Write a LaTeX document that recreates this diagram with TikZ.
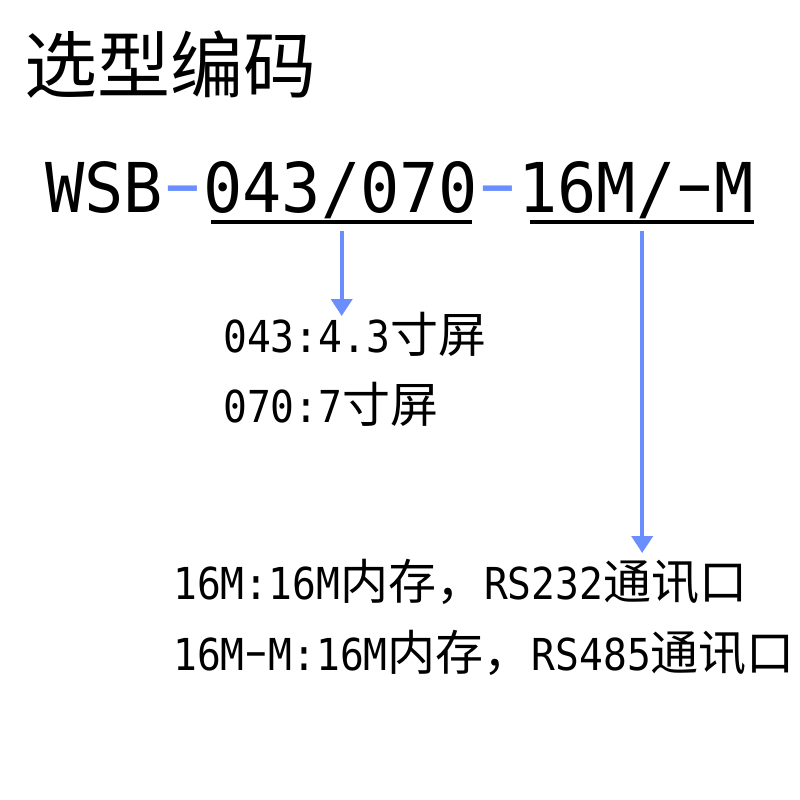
\documentclass[tikz,border=0pt]{standalone}
\usepackage{fontspec}
\usepackage{graphicx}
\usetikzlibrary{positioning,arrows.meta,calc}
\setmainfont{DejaVu Sans}
\newfontfamily\cjk{Noto Sans CJK SC}
\newfontfamily\mono[FakeStretch=0.9]{DejaVu Sans Mono}
\newfontfamily\monobig[FakeStretch=0.95]{DejaVu Sans Mono}
\definecolor{codeblue}{HTML}{6B8EFF}
\newcommand{\numtxt}[1]{{\fontsize{44}{50}\mono #1}}
\newcommand{\wdash}{\setbox0\hbox{0}\makebox[\wd0]{\raisebox{0.07em}{\scalebox{1.75}[1]{\makebox[0pt]{-}}}}}

\begin{document}
\begin{tikzpicture}[x=1pt,y=-1pt,
  txt/.style={inner sep=0pt, anchor=base west},
  part/.style={inner sep=0pt, font=\fontsize{68.7}{70}\monobig},
  desc/.style={font=\fontsize{48}{50}\cjk},
  pointer/.style={draw=codeblue, line width=4pt, -{Triangle[width=21pt,length=17pt]}},
  uline/.style={line width=3.5pt}]
\useasboundingbox (0,0) rectangle (800,800);
% title
\node[txt, font=\fontsize{73}{75}\cjk] (title) at (24,92.5) {选型编码};
% code line
\node[part, anchor=base west] (wsb) at (45,212) {WSB};
\node[part, base right=0pt of wsb, text=codeblue] (dash1) {\wdash};
\node[part, base right=0pt of dash1] (size) {043/070};
\node[part, base right=0pt of size, text=codeblue] (dash2) {\wdash};
\node[part, base right=0pt of dash2] (mem) {16M/\wdash M};
\draw[uline] ([shift={(8,10)}]size.base west) coordinate (u1a) -- ([shift={(-6,10)}]size.base east) coordinate (u1b);
\draw[uline] ([shift={(12,10)}]mem.base west) coordinate (u2a) -- ([shift={(0,10)}]mem.base east) coordinate (u2b);
\coordinate (u1) at ($(u1a)!0.5!(u1b)$);
\coordinate (u2) at ($(u2a)!0.5!(u2b)$);
% options
\node[txt, desc] (opt1) at (223,352) {\numtxt{043:4.3}寸屏};
\node[txt, desc] (opt2) at (223,422) {\numtxt{070:7}寸屏};
\node[txt, desc] (mem1) at (173,599) {\numtxt{16M:16M}内存，\numtxt{RS232}通讯口};
\node[txt, desc] (mem2) at (173,670) {\numtxt{16M\wdash M:16M}内存，\numtxt{RS485}通讯口};
% arrows
\draw[pointer] ($(u1)+(0,9)$) -- ($(u1 |- opt1.base)+(0,-36)$);
\draw[pointer] ($(u2)+(0,9)$) -- ($(u2 |- mem1.base)+(0,-46)$);
\end{tikzpicture}
\end{document}
